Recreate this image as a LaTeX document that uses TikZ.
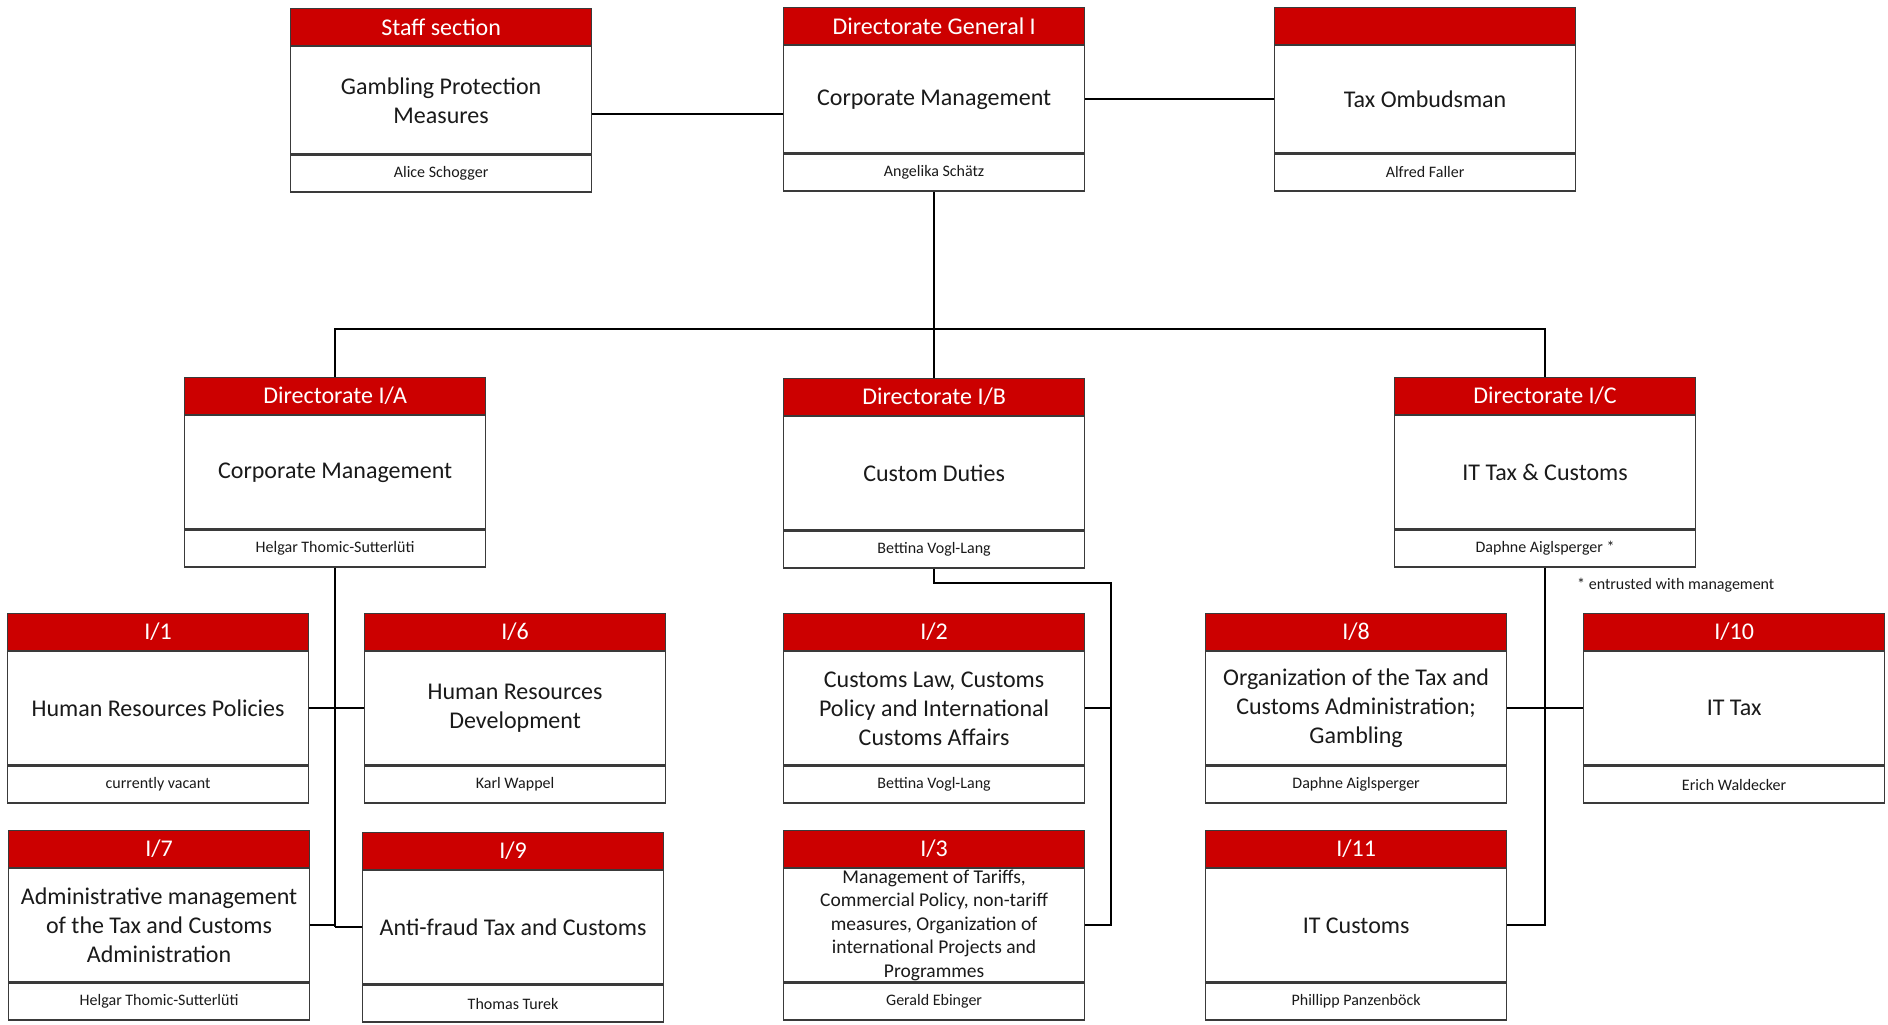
\documentclass[tikz,border=0pt]{standalone}
\usepackage{fontspec}
\setmainfont{Carlito}
\definecolor{dgred}{HTML}{CC0000}
\definecolor{boxline}{HTML}{3A3A3A}
\definecolor{txt}{HTML}{1A1A1A}
\newcommand\hdrfont{\fontsize{24}{29}\selectfont}
\newcommand\bodyfont{\fontsize{24}{29}\selectfont}
\newcommand\smallbodyfont{\fontsize{19.5}{23.5}\selectfont}
\newcommand\namefont{\fontsize{16}{19}\selectfont}
\tikzset{
  hdr/.style={fill=dgred, draw=boxline, line width=1.2pt, minimum width=301pt, minimum height=37pt, inner sep=0pt, text=white, font=\hdrfont, anchor=north west},
  bdy/.style={draw=boxline, fill=white, line width=1.2pt, minimum width=301pt, inner sep=0pt, anchor=north},
  btxt/.style={inner sep=0pt, align=center, text=txt},
  psn/.style={draw=boxline, fill=white, line width=1.2pt, minimum width=301pt, minimum height=37pt, inner sep=0pt, text=txt, font=\namefont, anchor=north},
  conn/.style={draw=black, line width=1.8pt},
}
% [text font], name, x, y(top), header, body text, person, body height
\newcommand\obox[8][\bodyfont]{%
  \node[hdr] (#2-h) at (#3,-#4) {#5};
  \node[bdy, minimum height=#8] (#2-b) at (#2-h.south) {};
  \node[psn] (#2-p) at (#2-b.south) {#7};
  \node[btxt, font=#1] (#2-t) at (#2-b.center) {#6};
}
\begin{document}
\begin{tikzpicture}[x=1pt,y=1pt]
\useasboundingbox (0,0) rectangle (1888,-1025);
% top level
\obox{staff}{290}{8}{Staff section}{Gambling Protection\\Measures}{Alice Schogger}{107pt}
\obox{dg}{783}{7}{Directorate General I}{Corporate Management}{Angelika Schätz}{107pt}
\obox{omb}{1274}{7}{}{Tax Ombudsman}{Alfred Faller}{107pt}
% directorates
\obox{ia}{184}{377}{Directorate I/A}{Corporate Management}{Helgar Thomic-Sutterlüti}{113pt}
\obox{ib}{783}{378}{Directorate I/B}{Custom Duties}{Bettina Vogl-Lang}{113pt}
\obox{ic}{1394}{377}{Directorate I/C}{IT Tax \& Customs}{Daphne Aiglsperger *}{113pt}
% row 1
\obox{i1}{7}{613}{I/1}{Human Resources Policies}{currently vacant}{113pt}
\obox{i6}{364}{613}{I/6}{Human Resources\\Development}{Karl Wappel}{113pt}
\obox{i2}{783}{613}{I/2}{Customs Law, Customs\\Policy and International\\Customs Affairs}{Bettina Vogl-Lang}{113pt}
\obox{i8}{1205}{613}{I/8}{Organization of the Tax and\\Customs Administration;\\Gambling}{Daphne Aiglsperger}{113pt}
\obox{i10}{1583}{613}{I/10}{IT Tax}{Erich Waldecker}{113pt}
% row 2
\obox{i7}{8}{830}{I/7}{Administrative management\\of the Tax and Customs\\Administration}{Helgar Thomic-Sutterlüti}{113pt}
\obox{i9}{362}{832}{I/9}{Anti-fraud Tax and Customs}{Thomas Turek}{113pt}
\obox[\smallbodyfont]{i3}{783}{830}{I/3}{Management of Tariffs,\\Commercial Policy, non-tariff\\measures, Organization of\\international Projects and\\Programmes}{Gerald Ebinger}{113pt}
\obox{i11}{1205}{830}{I/11}{IT Customs}{Phillipp Panzenböck}{113pt}
% footnote
\node[anchor=west, inner sep=0pt, text=txt, font=\namefont] (fn) at (1577,-585) {* entrusted with management};
% helper coordinates
\coordinate (ystaff) at (0,-114);
\coordinate (bar) at (0,-329);
\coordinate (ibr) at (1111,-583);
% connectors
\draw[conn] (staff-b.east |- ystaff) -- (dg-b.west |- ystaff);
\draw[conn] (dg-b.east) -- (dg-b.east -| omb-b.west);
\draw[conn] (dg-p.south) -- (dg-p.south |- bar);
\draw[conn] (ia-h.north) -- (ia-h.north |- bar) -- (ic-h.north |- bar) -- (ic-h.north);
\draw[conn] (dg-p.south |- bar) -- (ib-h.north);
% I/A branch
\draw[conn] (ia-p.south) -- (ia-p.south |- i9-b.west);
\draw[conn] (i1-b.east) -- (i6-b.west);
\draw[conn] (i7-b.east) -- (i7-b.east -| ia-p.south);
\draw[conn] (i9-b.west) -- (i9-b.west -| ia-p.south);
% I/B branch
\draw[conn] (ib-p.south) -- (ib-p.south |- ibr) -- (ibr) -- (ibr |- i3-b.east) -- (i3-b.east);
\draw[conn] (i2-b.east) -- (i2-b.east -| ibr);
% I/C branch
\draw[conn] (ic-p.south) -- (ic-p.south |- i11-b.east) -- (i11-b.east);
\draw[conn] (i8-b.east) -- (i10-b.west);
\end{tikzpicture}
\end{document}
